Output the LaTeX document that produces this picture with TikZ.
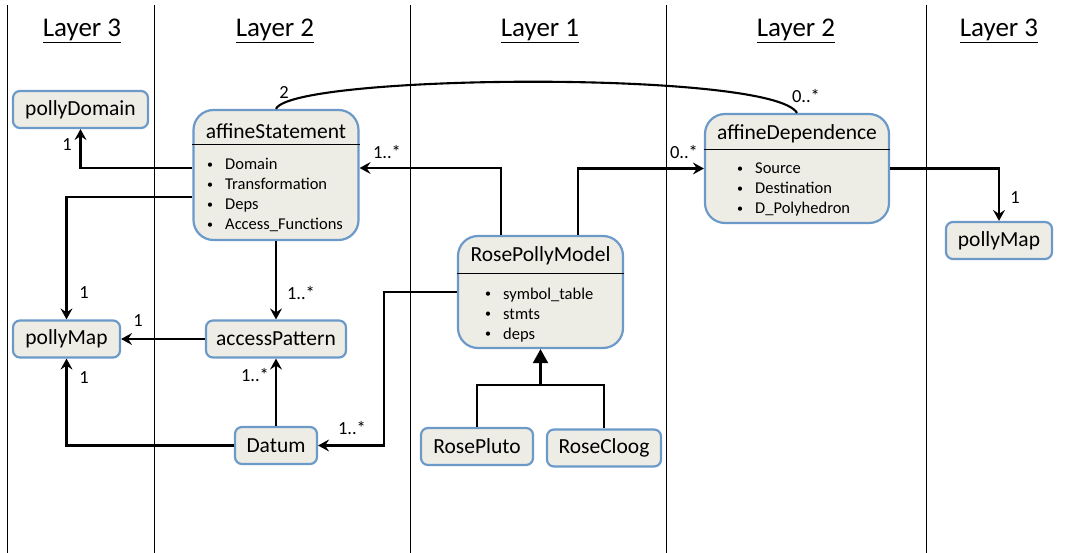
\documentclass[tikz,border=0pt]{standalone}
\usepackage{fontspec}
\setmainfont{Carlito}
\usetikzlibrary{arrows.meta}
\definecolor{boxfill}{HTML}{EEEDE5}
\definecolor{boxline}{HTML}{6B9AC9}
\newcommand{\bul}{\makebox[19pt][l]{\hspace{1pt}\raisebox{1.2pt}{\fontsize{12}{12}\selectfont•}}}
\newcommand{\itemfont}{\fontsize{16.5}{20}\selectfont}
\newcommand{\titlefont}{\fontsize{21.5}{24}\selectfont}
\begin{document}
\begin{tikzpicture}[x=1pt,y=-1pt,
  cls/.style={draw=boxline, fill=boxfill, line width=2.2pt, rounded corners=#1,
    inner sep=0pt, font=\titlefont},
  cls/.default=7pt,
  layer/.style={line width=1pt},
  hdr/.style={font=\fontsize{27}{30}\selectfont},
  items/.style={anchor=base west, inner sep=0pt, font=\itemfont},
  conn/.style={line width=2.1pt, -{Stealth[length=11pt,width=12pt,inset=4pt]}},
  plain/.style={line width=2.1pt},
  inh/.style={line width=2.1pt, -{Triangle[length=14pt,width=15pt]}},
  mult/.style={font=\fontsize{18.5}{21}\selectfont, inner sep=1pt}]

\useasboundingbox (0,0) rectangle (1065,553);

% layer separators
\foreach \x in {7,154,410,666,926}
  \draw[layer] (\x,5) -- (\x,553);

% layer headings
\node[hdr] (h1) at (82,31)  {\underline{Layer 3}};
\node[hdr] (h2) at (275,31) {\underline{Layer 2}};
\node[hdr] (h3) at (540,31) {\underline{Layer 1}};
\node[hdr] (h4) at (796,31) {\underline{Layer 2}};
\node[hdr] (h5) at (999,31) {\underline{Layer 3}};

% simple classes
\node[cls, minimum width=135pt, minimum height=37pt] (pd)  at (80.5,109.5) {pollyDomain};
\node[cls, minimum width=107pt, minimum height=37pt] (pmL) at (66.5,339)   {pollyMap};
\node[cls, minimum width=140pt, minimum height=37pt] (ap)  at (276,339)    {accessPattern};
\node[cls, minimum width=82pt,  minimum height=37pt] (dt)  at (276,445.5)  {Datum};
\node[cls, minimum width=112pt, minimum height=37pt] (rp)  at (477,446.5)  {RosePluto};
\node[cls, minimum width=114pt, minimum height=37pt] (rc)  at (604,448)    {RoseCloog};
\node[cls, minimum width=106pt, minimum height=37pt] (pmR) at (999,240.5)  {pollyMap};

% affineStatement
\node[cls=20pt, minimum width=165pt, minimum height=130pt] (as) at (276,175) {};
\draw[line width=1.2pt] ([yshift=-36pt]as.north west) -- ([yshift=-36pt]as.north east);
\node[font=\titlefont] (ast) at (276,131) {affineStatement};
\node[items] (asi) at (206,170) {\begin{tabular}[t]{@{}l@{}}
  \bul Domain\\ \bul Transformation\\ \bul Deps\\ \bul Access\_Functions\end{tabular}};

% RosePollyModel
\node[cls=20pt, minimum width=165pt, minimum height=112pt] (rpm) at (540.5,292) {};
\draw[line width=1.2pt] ([yshift=-39pt]rpm.north west) -- ([yshift=-39pt]rpm.north east);
\node[font=\titlefont] (rpmt) at (540.5,256) {RosePollyModel};
\node[items] (rpmi) at (484,299) {\begin{tabular}[t]{@{}l@{}}
  \bul symbol\_table\\ \bul stmts\\ \bul deps\end{tabular}};

% affineDependence
\node[cls=20pt, minimum width=184pt, minimum height=109pt] (ad) at (797,168.5) {};
\draw[line width=1.2pt] ([yshift=-37pt]ad.north west) -- ([yshift=-37pt]ad.north east);
\node[font=\titlefont] (adt) at (797,134) {affineDependence};
\node[items] (adi) at (736,174) {\begin{tabular}[t]{@{}l@{}}
  \bul Source\\ \bul Destination\\ \bul D\_Polyhedron\end{tabular}};

% associations
\draw[conn] ([yshift=7pt]as.west) -| (pd.south);
\draw[conn] ([yshift=-22pt]as.west) -| (pmL.north);
\draw[conn] (as.south) -- (ap.north);
\draw[conn] (ap.west) -- (pmL.east);
\draw[conn] (dt.north) -- (ap.south);
\draw[conn] (dt.west) -| (pmL.south);
\draw[conn] (rpm.west) -- ++(-73,0) |- (dt.east);
\draw[conn] ([xshift=-39.5pt]rpm.north) |- ([yshift=7pt]as.east);
\draw[conn] ([xshift=37.5pt]rpm.north) |- (ad.west);
\draw[conn] (ad.east) -| (pmR.north);
\draw[plain] (as.north) .. controls (292,74) and (772,70) .. (ad.north);

% generalisation
\coordinate (j) at ([yshift=-36pt]rpm.south);
\draw[plain] (rp.north) |- (j) -| (rc.north);
\draw[inh] (j) -- (rpm.south);

% multiplicities
\node[mult] (m1)  at (67,145)   {1};
\node[mult] (m2)  at (84,293)   {1};
\node[mult] (m3)  at (301,293)  {1..*};
\node[mult] (m4)  at (138,321)  {1};
\node[mult] (m5)  at (255,375)  {1..*};
\node[mult] (m6)  at (84,378)   {1};
\node[mult] (m7)  at (352,428)  {1..*};
\node[mult] (m8)  at (387,152)  {1..*};
\node[mult] (m9)  at (684,152)  {0..*};
\node[mult] (m10) at (1015,198) {1};
\node[mult] (m11) at (284,93)   {2};
\node[mult] (m12) at (806,96)   {0..*};
\end{tikzpicture}
\end{document}
